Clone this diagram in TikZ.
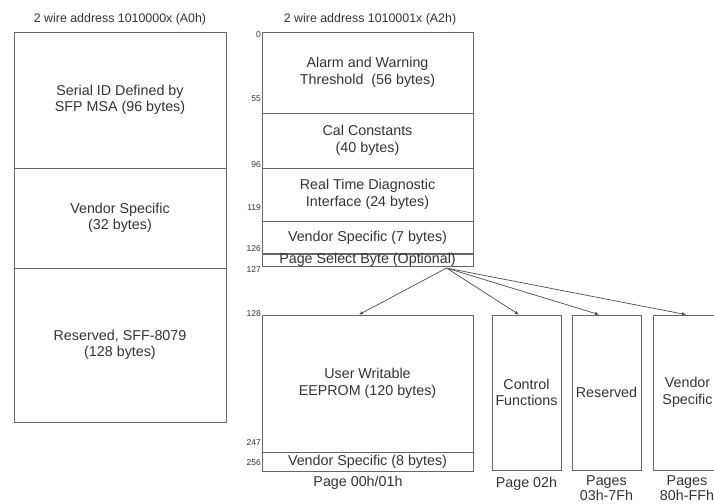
\documentclass[tikz,border=0pt]{standalone}
\usepackage{fontspec}
\setmainfont{Liberation Sans}
\usetikzlibrary{arrows.meta, calc, positioning}

\begin{document}
\begin{tikzpicture}[x=1pt, y=-1pt,
    memblock/.style={draw=black!60, line width=0.8pt, rectangle, inner sep=0pt, align=center,
        text=black!80, font=\fontsize{14.3}{16.5}\selectfont},
    pagelbl/.style={text=black!80, align=center, font=\fontsize{14.3}{15}\selectfont},
    addrlbl/.style={text=black!80, anchor=east, inner sep=0pt, font=\fontsize{8.5}{9}\selectfont},
    titlelbl/.style={text=black!80, font=\fontsize{12.4}{14}\selectfont},
    fanline/.style={draw=black!70, line width=0.7pt, -{Latex[length=4pt,width=3.5pt]}}]

            \useasboundingbox (0,0) rectangle (714,503);

            % 2 wire address A0h
            \node[titlelbl] (titleA0) at (120,19) {2 wire address 1010000x (A0h)};
            \node[memblock, minimum width=212, minimum height=136] (serial) at (120,100) {Serial ID Defined by\\SFP MSA (96 bytes)};
            \node[memblock, minimum width=212, minimum height=100] (vendA0) at (120,218) {Vendor Specific\\(32 bytes)};
            \node[memblock, minimum width=212, minimum height=154] (resA0) at (120,345) {Reserved, SFF-8079\\(128 bytes)};

            % 2 wire address A2h
            \node[titlelbl] (titleA2) at (370,19) {2 wire address 1010001x (A2h)};
            \node[memblock, minimum width=211, minimum height=81] (alarm) at (367.5,72.5) {Alarm and Warning\\Threshold~~(56 bytes)};
            \node[memblock, minimum width=211, minimum height=55] (cal) at (367.5,140.5) {Cal Constants\\(40 bytes)};
            \node[memblock, minimum width=211, minimum height=53] (diag) at (367.5,194.5) {Real Time Diagnostic\\Interface (24 bytes)};
            \node[memblock, minimum width=211, minimum height=33] (vendA2) at (367.5,237.5) {Vendor Specific (7 bytes)};
            \node[memblock, minimum width=211, minimum height=12] (psel) at (367.5,260) {Page Select Byte (Optional)};

            \node[memblock, minimum width=211, minimum height=137] (user) at (367.5,383.5) {User Writable\\EEPROM (120 bytes)};
            \node[memblock, minimum width=211, minimum height=19] (vendpg) at (367.5,461.5) {Vendor Specific (8 bytes)};

            \node[memblock, minimum width=69, minimum height=155] (ctrl) at (526.5,392.5) {Control\\Functions};
            \node[memblock, minimum width=69, minimum height=155] (resv) at (606.5,392.5) {Reserved};
            \node[memblock, minimum width=69, minimum height=155] (vspec) at (687.5,392.5) {Vendor\\Specific};

            % byte offsets
            \node[addrlbl] (a0) at (261,35) {0};
            \node[addrlbl] (a55) at (261,99) {55};
            \node[addrlbl] (a96) at (261,165) {96};
            \node[addrlbl] (a119) at (261,208) {119};
            \node[addrlbl] (a126) at (261,249) {126};
            \node[addrlbl] (a127) at (261,270) {127};
            \node[addrlbl] (a128) at (261,314) {128};
            \node[addrlbl] (a247) at (261,443) {247};
            \node[addrlbl] (a256) at (261,463) {256};

            % page names
            \node[pagelbl] (pg01) at (358,483) {Page 00h/01h};
            \node[pagelbl, anchor=north] (pg02) at (526.5,474) {Page 02h};
            \node[pagelbl, anchor=north, inner sep=1pt] (pg03) at (606.5,474) {Pages\\03h-7Fh};
            \node[pagelbl, anchor=north, inner sep=1pt] (pg80) at (687,474) {Pages\\80h-FFh};

            % Connections: page select to pages
            \coordinate (fan) at ($(psel.south)+(79,1)$);
            \draw[fanline] (fan) -- ($(user.north)+(-8.5,0)$);
            \draw[fanline] (fan) -- ($(ctrl.north)+(-7.5,0)$);
            \draw[fanline] (fan) -- ($(resv.north)+(-7.5,0)$);
            \draw[fanline] (fan) -- ($(vspec.north)+(-1.5,0)$);

        \end{tikzpicture}
\end{document}
